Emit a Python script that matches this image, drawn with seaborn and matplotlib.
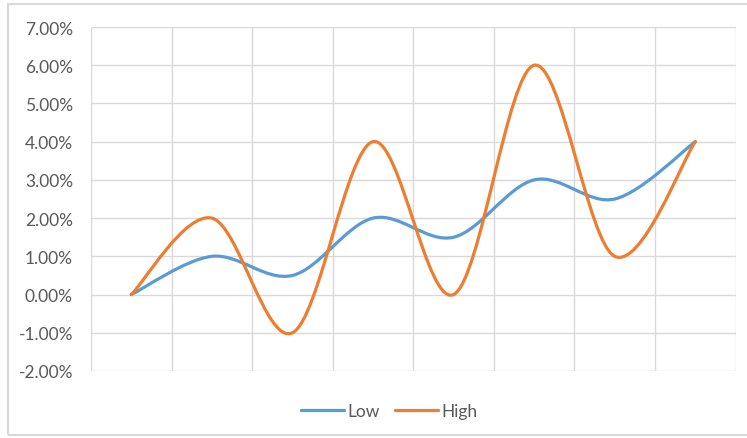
import numpy as np
import pandas as pd
import seaborn as sns
import matplotlib
matplotlib.use("Agg")
import matplotlib.pyplot as plt
from matplotlib.path import Path
from matplotlib.patches import PathPatch, Rectangle
from matplotlib.lines import Line2D
from matplotlib.ticker import FuncFormatter

# ---- data ----
categories = [1, 2, 3, 4, 5, 6, 7, 8]
low = [0.00, 0.01, 0.005, 0.02, 0.015, 0.03, 0.025, 0.04]
high = [0.00, 0.02, -0.01, 0.04, 0.00, 0.06, 0.01, 0.04]
series_names = ["Low", "High"]
series_colors = ["#5B9BD5", "#ED7D31"]
y_ticks = [-0.02, -0.01, 0.0, 0.01, 0.02, 0.03, 0.04, 0.05, 0.06, 0.07]

sns.set_theme(style="white")
plt.rcParams["font.family"] = ["Lato", "DejaVu Sans"]

fig = plt.figure(figsize=(7.47, 4.39), dpi=100)
ax = fig.add_axes([91 / 747, 1 - 372 / 439, (735.6 - 91) / 747, (372 - 28) / 439])

def smooth_path(xs, ys):
    # Excel-style smoothed line: cubic Bezier through every point
    pts = np.column_stack([xs, ys]).astype(float)
    n = len(pts)
    verts = [pts[0]]
    codes = [Path.MOVETO]
    for i in range(n - 1):
        p0 = pts[i - 1] if i > 0 else pts[i]
        p1 = pts[i]
        p2 = pts[i + 1]
        p3 = pts[i + 2] if i + 2 < n else pts[i + 1]
        c1 = p1 + (p2 - p0) / 6.0
        c2 = p2 - (p3 - p1) / 6.0
        verts += [c1, c2, p2]
        codes += [Path.CURVE4] * 3
    return Path(verts, codes)

xpos = np.arange(len(categories))
handles = []
for name, vals, col in zip(series_names, [low, high], series_colors):
    patch = PathPatch(smooth_path(xpos, vals), facecolor="none", edgecolor=col,
                      lw=2.3, capstyle="round", joinstyle="round", zorder=3)
    ax.add_patch(patch)
    handles.append(Line2D([], [], color=col, lw=2.3, label=name))

ax.set_xlim(-0.5, len(categories) - 0.5)
ax.set_ylim(-0.02, 0.07)
ax.set_yticks(y_ticks)
ax.yaxis.set_major_formatter(FuncFormatter(lambda v, p: f"{v*100:.2f}%"))
ax.set_xticks(np.arange(-0.5, len(categories), 1.0))
ax.set_xticklabels([])
ax.grid(True, color="#D9D9D9", lw=1.0)
ax.set_axisbelow(True)
for s in ax.spines.values():
    s.set_visible(False)
ax.tick_params(axis="both", length=0)
ax.tick_params(axis="y", pad=13, labelsize=12.5, labelcolor="#595959")

fig.legend(handles=handles, loc="center", bbox_to_anchor=(389 / 747, 1 - 412 / 439),
           ncol=2, frameon=False, fontsize=12.5, labelcolor="#595959",
           handlelength=2.5, handletextpad=0.15, columnspacing=0.9)

fig.patches.append(Rectangle((8 / 747, 1 - 436 / 439), 1.0, (436 - 5) / 439,
                             transform=fig.transFigure, fill=False,
                             edgecolor="#D9D9D9", lw=1.5))

fig.savefig("out.png", dpi=100)
